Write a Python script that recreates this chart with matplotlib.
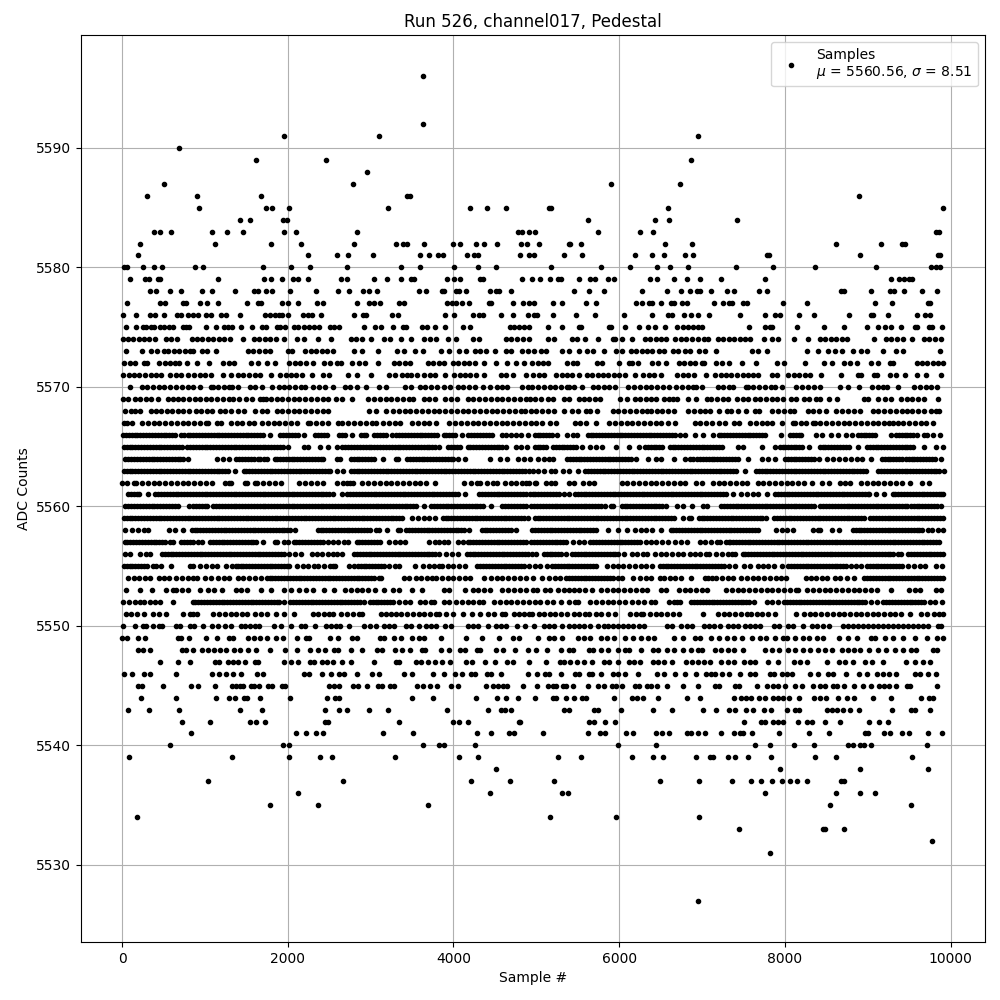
import matplotlib
matplotlib.use("Agg")
import matplotlib.pyplot as plt

run_number = 526
channel = "channel017"
mean_adc = 5560.56
std_adc = 8.51

# sample numbers, one list per ADC level
s5596 = [3627]
s5592 = [3627]
s5591 = [1955, 3100, 6955]
s5590 = [690]
s5589 = [1620, 2460, 6871]
s5588 = [2955]
s5587 = [510, 2785, 5907, 6739]
s5586 = [305, 905, 1680, 3440, 3480, 8895]
s5585 = [930, 1740, 1805, 2010, 3210, 4205, 4400, 4630, 5150, 5175, 6594, 9907]
s5584 = [1425, 1545, 1945, 1985, 5618, 6437, 6606, 7425]
s5583 = [385, 460, 590, 1085, 1265, 1460, 1955, 2100, 2830, 4780, 4830, 4907, 4980, 5750, 6257, 6413, 9830, 9855]
s5582 = [221, 1125, 1800, 2160, 2800, 3305, 3390, 3440, 3640, 3992, 4076, 4270, 4365, 4522, 4810, 4887, 5028, 5390, 5410, 5534, 6558, 6883, 8618, 9160, 9413, 9453]
s5581 = [197, 2245, 2594, 2727, 3028, 3594, 3703, 3811, 3871, 4160, 4245, 4293, 4800, 4907, 4976, 5329, 5546, 6196, 6401, 6546, 6799, 6895, 7787, 7811, 8907, 9843, 9867]
s5580 = [20, 60, 257, 390, 486, 884, 980, 1703, 2040, 2269, 2715, 3365, 3594, 4004, 4293, 4510, 5176, 5775, 6136, 6461, 6618, 6835, 7413, 7859, 8365, 9100, 9770, 9819, 9875]
s5579 = [100, 281, 325, 430, 462, 1160, 1715, 1800, 1932, 2064, 2124, 2245, 2642, 2715, 3040, 3197, 3365, 3486, 3522, 3924, 4004, 4084, 4317, 4353, 4827, 4944, 5040, 5160, 5257, 5297, 5510, 5642, 5703, 5871, 5943, 6377, 6461, 6666, 6823, 6980, 7233, 7763, 9281, 9377, 9437, 9498, 9534]
s5578 = [341, 414, 582, 715, 968, 1088, 1365, 1594, 1643, 1739, 1811, 2028, 2341, 2606, 2739, 2908, 2980, 3072, 3582, 3667, 3859, 3891, 4028, 4064, 4148, 4438, 4514, 4546, 4690, 5450, 5630, 5811, 6281, 6582, 6751, 6859, 6935, 6976, 7112, 7305, 7389, 7690, 7787, 8678, 8715, 9040, 9269, 9317, 9437, 9654, 9835]
s5577 = [64, 462, 522, 739, 775, 944, 1028, 1160, 1510, 1643, 1679, 1932, 2004, 2124, 2353, 2426, 2835, 2980, 3040, 3112, 3341, 3402, 3920, 3980, 4028, 4100, 4185, 4425, 4453, 4715, 4835, 4907, 4968, 5197, 5305, 5594, 5715, 6209, 6281, 6365, 6401, 6510, 6630, 6666, 6763, 6823, 7148, 7257, 7329, 7365, 7498, 7546, 7980, 8269, 9088, 9293, 9727, 9747]
s5576 = [16, 173, 341, 402, 510, 667, 715, 799, 851, 912, 1016, 1076, 1197, 1257, 1425, 1727, 1787, 1847, 1895, 1935, 2004, 2185, 2245, 2297, 2401, 2799, 2908, 2944, 3257, 3329, 3895, 4004, 4233, 4305, 4353, 4570, 4715, 4895, 4968, 5008, 5197, 5474, 5703, 6064, 6401, 6594, 6642, 6787, 6871, 6955, 7088, 7462, 7763, 7883, 7943, 8172, 8353, 8775, 9040, 9064, 9245, 9594, 9690, 9750]
s5575 = [52, 173, 257, 293, 349, 390, 462, 510, 570, 610, 731, 775, 811, 1016, 1136, 1233, 1273, 1329, 1438, 1570, 1690, 1735, 1875, 1908, 1968, 2076, 2124, 2197, 2257, 2317, 2377, 2510, 2558, 2618, 2920, 3052, 3124, 3269, 3385, 3422, 3622, 3683, 3775, 3895, 4112, 4197, 4679, 4727, 4787, 4847, 4907, 5136, 5305, 5510, 5538, 5883, 5907, 6076, 6245, 6353, 6437, 6558, 6703, 6775, 6835, 6895, 6955, 6995, 7570, 7763, 7819, 7847, 8148, 8474, 8715, 8992, 9124, 9209, 9281, 9401, 9570, 9594, 9739, 9775, 9895]
s5574 = [10, 70, 130, 200, 270, 330, 400, 526, 590, 658, 840, 905, 970, 1035, 1100, 1170, 1235, 1300, 1458, 1590, 1655, 1720, 1790, 1855, 1955, 2115, 2200, 2365, 2525, 2760, 2825, 2890, 3000, 3160, 3230, 3361, 3490, 3640, 3720, 3790, 3935, 4035, 4230, 4310, 4630, 4700, 4770, 4840, 4910, 5144, 5209, 5425, 5490, 5590, 5739, 5920, 5955, 6040, 6160, 6310, 6375, 6440, 6505, 6565, 6680, 6745, 6810, 6880, 6950, 7020, 7075, 7190, 7255, 7320, 7390, 7455, 7520, 7580, 7743, 7850, 7915, 8112, 8285, 8425, 8490, 8555, 8620, 8690, 8755, 9076, 9215, 9280, 9350, 9430, 9538, 9680, 9745, 9810, 9880]
s5573 = [52, 237, 350, 425, 500, 560, 625, 690, 755, 825, 860, 960, 1030, 1130, 1520, 1585, 1650, 1720, 1790, 2000, 2050, 2210, 2275, 2340, 2410, 2475, 2550, 2795, 2900, 3088, 3320, 3400, 3540, 3630, 3850, 3950, 4070, 4150, 4260, 4325, 4390, 4500, 4640, 4690, 4830, 4900, 4970, 5060, 5120, 5310, 5400, 5514, 5610, 5680, 5819, 5965, 6035, 6140, 6205, 6270, 6335, 6400, 6480, 6540, 6650, 6715, 6790, 6850, 6960, 7040, 7164, 7600, 7680, 7787, 8269, 8397, 8518, 8606, 8695, 8823, 8923, 8996, 9185, 9340, 9430, 9871]
s5572 = [28, 95, 157, 260, 300, 450, 515, 580, 640, 690, 780, 904, 1052, 1215, 1285, 1345, 1560, 1640, 1750, 1850, 2020, 2085, 2150, 2215, 2310, 2440, 2510, 2590, 2640, 2770, 2860, 2930, 3090, 3280, 3345, 3410, 3480, 3690, 3755, 3820, 3885, 3995, 4060, 4125, 4190, 4260, 4370, 4518, 4646, 4759, 4847, 4950, 5015, 5080, 5140, 5370, 5440, 5490, 5730, 5790, 5996, 6120, 6155, 6233, 6400, 6470, 6560, 6720, 6785, 6860, 6910, 7000, 7030, 7170, 7240, 7330, 7486, 7646, 7908, 7992, 8245, 8470, 8570, 8720, 8790, 8870, 9040, 9130, 9270, 9305, 9590, 9655, 9720, 9785, 9850, 9915]
s5571 = [10, 80, 145, 210, 280, 345, 410, 470, 580, 650, 715, 800, 870, 935, 1000, 1070, 1220, 1310, 1400, 1465, 1530, 1600, 1665, 1800, 1910, 1975, 2040, 2105, 2170, 2290, 2425, 2500, 2730, 2835, 3008, 3220, 3300, 3380, 3445, 3490, 3555, 3650, 3715, 3780, 3900, 4010, 4075, 4140, 4205, 4270, 4370, 4575, 4640, 4720, 4880, 4965, 5030, 5090, 5240, 5305, 5370, 5435, 5510, 5610, 5675, 5740, 5805, 5870, 5935, 6000, 6065, 6188, 6290, 6355, 6420, 6500, 6700, 6765, 6830, 6900, 7052, 7160, 7225, 7290, 7355, 7420, 7490, 7555, 7620, 7680, 7850, 7900, 8040, 8105, 8170, 8240, 8305, 8440, 8678, 8880, 8920, 9075, 9110, 9265, 9345, 9445, 9600, 9700, 9887]
s5570 = [95, 240, 305, 375, 440, 510, 580, 650, 720, 790, 855, 935, 1070, 1100, 1160, 1225, 1290, 1330, 1400, 1545, 1610, 1690, 1810, 1900, 1950, 2020, 2090, 2160, 2210, 2310, 2380, 2450, 2540, 2690, 2755, 2830, 2950, 3100, 3180, 3420, 3490, 3590, 3660, 3730, 3800, 3890, 3960, 4060, 4120, 4190, 4260, 4360, 4440, 4520, 4590, 4650, 4830, 4900, 4950, 5020, 5090, 5160, 5230, 5300, 5370, 5400, 5460, 5550, 5680, 5750, 5815, 5880, 5950, 6110, 6180, 6250, 6320, 6390, 6460, 6530, 6600, 6690, 6760, 6830, 6890, 6930, 7000, 7190, 7250, 7320, 7380, 7530, 7550, 7620, 7690, 7760, 7835, 7885, 7960, 8140, 8210, 8280, 8350, 8420, 8660, 8760, 8890, 9050, 9120, 9190, 9235, 9365, 9560, 9630, 9700, 9770, 9835]
s5569 = [8, 75, 150, 220, 290, 350, 430, 550, 610, 680, 740, 810, 880, 945, 1010, 1075, 1150, 1220, 1290, 1340, 1410, 1490, 1570, 1660, 1700, 1740, 1800, 1870, 1935, 2000, 2070, 2140, 2210, 2280, 2350, 2420, 2490, 2580, 2655, 2780, 2970, 3040, 3110, 3180, 3250, 3320, 3390, 3460, 3510, 3640, 3710, 3780, 3900, 3970, 4040, 4170, 4240, 4310, 4380, 4450, 4520, 4590, 4660, 4730, 4800, 4870, 4920, 4990, 5060, 5145, 5200, 5340, 5400, 5510, 5570, 5640, 5710, 5770, 6010, 6100, 6190, 6250, 6320, 6390, 6450, 6540, 6600, 6650, 6700, 6830, 6930, 7060, 7110, 7180, 7250, 7310, 7420, 7490, 7550, 7640, 7700, 7770, 7840, 7910, 7980, 8080, 8130, 8230, 8290, 8370, 8420, 8528, 8630, 8950, 9000, 9119, 9210, 9280, 9398, 9470, 9540, 9610, 9680, 9851]
s5568 = [40, 110, 150, 217, 345, 410, 470, 540, 600, 670, 730, 810, 890, 950, 1020, 1090, 1180, 1240, 1310, 1400, 1470, 1600, 1690, 1750, 1870, 1930, 2000, 2070, 2140, 2210, 2280, 2350, 2420, 2490, 2980, 3060, 3190, 3270, 3340, 3410, 3480, 3550, 3620, 3690, 3760, 3830, 3900, 3970, 4040, 4110, 4180, 4250, 4320, 4390, 4460, 4530, 4600, 4670, 4740, 4810, 4860, 4930, 5000, 5070, 5140, 5215, 5330, 5430, 5500, 5600, 5650, 5730, 5920, 5990, 6060, 6130, 6200, 6270, 6340, 6390, 6460, 6520, 6590, 6660, 6830, 6900, 6970, 7040, 7100, 7207, 7300, 7350, 7440, 7530, 7640, 7690, 7850, 7920, 7990, 8060, 8110, 8280, 8340, 8410, 8500, 8620, 8690, 8760, 8830, 8905, 9060, 9130, 9200, 9270, 9340, 9410, 9480, 9540, 9610, 9680, 9760, 9820, 9860]
s5567 = [20, 60, 116, 240, 310, 380, 450, 520, 590, 660, 730, 800, 870, 940, 1010, 1040, 1150, 1190, 1310, 1390, 1450, 1530, 1590, 1690, 1760, 1830, 1900, 1970, 2040, 2110, 2240, 2270, 2340, 2410, 2480, 2610, 2660, 2730, 2800, 2870, 2940, 3020, 3065, 3150, 3220, 3290, 3360, 3500, 3570, 3640, 3710, 3790, 3950, 4020, 4090, 4160, 4230, 4300, 4370, 4440, 4510, 4580, 4650, 4720, 4790, 4860, 4930, 5000, 5070, 5170, 5232, 5470, 5530, 5600, 5715, 5880, 5950, 6020, 6090, 6160, 6230, 6300, 6370, 6440, 6510, 6590, 6680, 6910, 6980, 7050, 7120, 7200, 7277, 7390, 7450, 7580, 7650, 7720, 7790, 7850, 7970, 8100, 8120, 8190, 8260, 8340, 8360, 8430, 8500, 8570, 8640, 8710, 8780, 8850, 8920, 8990, 9060, 9130, 9200, 9260, 9310, 9360, 9430, 9500, 9570, 9640, 9700, 9790]
s5566 = [12, 80, 150, 220, 290, 360, 430, 500, 570, 640, 710, 742, 790, 860, 930, 1000, 1070, 1140, 1210, 1280, 1350, 1420, 1490, 1560, 1630, 1700, 1790, 1910, 1980, 2050, 2120, 2190, 2330, 2400, 2470, 2620, 2690, 2770, 2880, 2950, 3040, 3110, 3180, 3260, 3310, 3380, 3450, 3520, 3590, 3660, 3730, 3800, 3880, 3950, 4020, 4100, 4180, 4250, 4320, 4390, 4460, 4580, 4640, 4690, 4760, 4820, 4900, 4980, 5050, 5120, 5190, 5245, 5370, 5440, 5490, 5620, 5690, 5760, 5830, 5900, 5970, 6040, 6110, 6180, 6250, 6320, 6390, 6460, 6530, 6600, 6670, 6740, 6795, 6911, 7011, 7135, 7200, 7270, 7340, 7410, 7480, 7550, 7620, 7690, 7760, 7950, 8060, 8130, 8200, 8380, 8450, 8560, 8640, 8740, 8810, 8880, 8950, 9020, 9090, 9280, 9340, 9410, 9480, 9550, 9600, 9680, 9710, 9790, 9870]
s5565 = [20, 90, 160, 230, 300, 370, 440, 510, 580, 650, 720, 780, 820, 890, 960, 1030, 1100, 1170, 1240, 1310, 1380, 1450, 1520, 1590, 1660, 1730, 1800, 1870, 1940, 2000, 2200, 2240, 2390, 2480, 2590, 2660, 2730, 2800, 2870, 2940, 3010, 3080, 3150, 3220, 3290, 3360, 3430, 3500, 3570, 3640, 3710, 3780, 3830, 3940, 4010, 4080, 4170, 4240, 4310, 4380, 4450, 4520, 4590, 4630, 4750, 4820, 4890, 4980, 5050, 5115, 5200, 5270, 5340, 5410, 5480, 5555, 5650, 5715, 5790, 5960, 6120, 6240, 6310, 6380, 6450, 6520, 6610, 6680, 6750, 6820, 6890, 6960, 7030, 7100, 7170, 7240, 7430, 7490, 7727, 7880, 7940, 8000, 8070, 8140, 8210, 8290, 8420, 8490, 8560, 8630, 8700, 8770, 8880, 8990, 9060, 9130, 9200, 9270, 9340, 9410, 9480, 9550, 9680, 9820, 9915]
s5564 = [40, 110, 180, 250, 320, 390, 460, 530, 600, 670, 740, 800, 1140, 1220, 1290, 1380, 1450, 1520, 1590, 1670, 1750, 1840, 1870, 1940, 2010, 2080, 2150, 2220, 2290, 2360, 2430, 2600, 2630, 2760, 2830, 2900, 2970, 3040, 3150, 3310, 3330, 3440, 3510, 3580, 3650, 3720, 3790, 3860, 3930, 4000, 4060, 4140, 4440, 4560, 4650, 4780, 4850, 4920, 5020, 5090, 5150, 5200, 5370, 5440, 5510, 5580, 5650, 5720, 5790, 5860, 5930, 6000, 6070, 6140, 6200, 6345, 6440, 6510, 6660, 6795, 6860, 6940, 7010, 7080, 7150, 7220, 7290, 7360, 7430, 7559, 7730, 7800, 7880, 8000, 8070, 8140, 8210, 8280, 8350, 8410, 8510, 8580, 8650, 8730, 8800, 8870, 8930, 9035, 9170, 9240, 9310, 9380, 9460, 9530, 9600, 9670, 9740, 9810, 9880]
s5563 = [20, 90, 160, 230, 300, 370, 440, 510, 580, 650, 720, 790, 860, 930, 1000, 1070, 1140, 1210, 1280, 1360, 1466, 1535, 1605, 1675, 1745, 1815, 1885, 1955, 2025, 2095, 2165, 2235, 2305, 2375, 2445, 2515, 2600, 2667, 2759, 2830, 2900, 2970, 3040, 3110, 3180, 3250, 3320, 3390, 3460, 3530, 3600, 3670, 3740, 3810, 3880, 3950, 4020, 4090, 4160, 4230, 4300, 4370, 4440, 4510, 4580, 4650, 4720, 4790, 4860, 4910, 4960, 5025, 5090, 5172, 5230, 5320, 5395, 5498, 5590, 5660, 5730, 5800, 5870, 5940, 6010, 6080, 6150, 6220, 6290, 6360, 6430, 6500, 6570, 6640, 6710, 6780, 6850, 6920, 6990, 7060, 7130, 7200, 7270, 7340, 7410, 7514, 7650, 7720, 7790, 7860, 7930, 8000, 8070, 8140, 8210, 8280, 8350, 8420, 8490, 8560, 8630, 8700, 8770, 8840, 8910, 8980, 9128, 9200, 9270, 9340, 9410, 9480, 9550, 9620, 9690, 9760, 9830, 9920]
s5562 = [0, 60, 140, 170, 240, 310, 380, 450, 520, 590, 660, 730, 800, 870, 940, 1010, 1080, 1240, 1290, 1320, 1480, 1510, 1600, 1630, 1700, 1770, 1840, 1920, 2140, 2210, 2280, 2350, 2420, 2600, 2670, 2720, 2750, 2790, 2900, 2970, 3040, 3110, 3180, 3250, 3320, 3390, 3460, 3530, 3600, 3670, 3780, 4130, 4210, 4290, 4320, 4400, 4480, 4530, 4620, 4690, 4750, 4830, 4880, 4910, 4990, 5000, 5120, 5180, 5220, 5390, 5460, 5560, 5630, 5700, 6030, 6100, 6170, 6240, 6310, 6380, 6450, 6520, 6590, 6660, 6730, 6800, 6930, 7000, 7130, 7200, 7270, 7340, 7410, 7480, 7540, 7670, 7740, 7810, 7880, 7950, 8020, 8090, 8160, 8230, 8330, 8450, 8530, 8660, 8730, 8790, 8920, 8990, 9060, 9130, 9200, 9270, 9340, 9410, 9510, 9650, 9740]
s5561 = [68, 140, 210, 315, 400, 470, 540, 610, 680, 750, 820, 890, 960, 1030, 1100, 1170, 1240, 1310, 1380, 1450, 1520, 1590, 1660, 1730, 1800, 1870, 1940, 2010, 2080, 2150, 2220, 2290, 2360, 2430, 2500, 2540, 2650, 2720, 2790, 2860, 2930, 3000, 3070, 3140, 3210, 3280, 3350, 3420, 3490, 3560, 3630, 3700, 3770, 3840, 3910, 3980, 4050, 4135, 4310, 4380, 4450, 4520, 4590, 4660, 4730, 4800, 4870, 4920, 4990, 5060, 5130, 5200, 5270, 5330, 5395, 5465, 5535, 5605, 5675, 5745, 5815, 5885, 5955, 6025, 6095, 6165, 6235, 6305, 6375, 6445, 6515, 6585, 6655, 6725, 6795, 6865, 6935, 7005, 7075, 7145, 7215, 7285, 7370, 7470, 7540, 7610, 7680, 7785, 7880, 7950, 8020, 8090, 8160, 8230, 8300, 8370, 8440, 8510, 8580, 8650, 8720, 8790, 8860, 8930, 9000, 9020, 9100, 9200, 9300, 9370, 9440, 9510, 9580, 9650, 9720, 9790, 9860, 9915]
s5560 = [40, 110, 180, 250, 320, 390, 460, 530, 600, 670, 810, 860, 930, 1000, 1030, 1100, 1170, 1240, 1310, 1380, 1450, 1520, 1590, 1660, 1730, 1800, 1870, 1940, 2010, 2080, 2150, 2220, 2290, 2360, 2430, 2500, 2570, 2640, 2710, 2780, 2850, 2920, 2990, 3060, 3130, 3200, 3270, 3340, 3410, 3480, 3550, 3650, 3730, 3800, 3870, 3940, 4010, 4080, 4150, 4220, 4290, 4360, 4450, 4590, 4660, 4730, 4800, 4870, 4940, 5010, 5080, 5150, 5220, 5290, 5360, 5430, 5500, 5570, 5640, 5710, 5780, 5830, 5900, 5920, 6030, 6100, 6170, 6240, 6310, 6380, 6450, 6520, 6570, 6700, 6770, 6880, 7010, 7060, 7230, 7300, 7370, 7440, 7510, 7580, 7650, 7720, 7790, 7860, 7930, 8000, 8070, 8140, 8210, 8280, 8350, 8430, 8500, 8570, 8640, 8710, 8780, 8850, 8920, 8990, 9060, 9130, 9200, 9270, 9340, 9410, 9480, 9520, 9555, 9625, 9695, 9765, 9835, 9890]
s5559 = [20, 90, 160, 230, 300, 370, 440, 510, 580, 650, 720, 790, 860, 930, 1000, 1070, 1140, 1210, 1280, 1350, 1420, 1490, 1560, 1630, 1700, 1770, 1840, 1910, 1980, 2050, 2120, 2190, 2260, 2330, 2400, 2470, 2540, 2610, 2680, 2750, 2820, 2890, 2960, 3030, 3100, 3170, 3240, 3310, 3380, 3500, 3570, 3640, 3710, 3780, 3870, 3940, 4010, 4080, 4150, 4220, 4290, 4360, 4430, 4500, 4570, 4640, 4710, 4780, 4850, 4900, 4980, 5050, 5120, 5190, 5260, 5330, 5400, 5470, 5540, 5610, 5680, 5750, 5820, 5890, 5960, 6030, 6100, 6170, 6240, 6310, 6380, 6450, 6520, 6590, 6660, 6770, 6840, 6870, 6960, 7030, 7100, 7170, 7240, 7310, 7380, 7450, 7520, 7590, 7660, 7730, 7770, 7870, 7940, 8010, 8080, 8150, 8220, 8290, 8360, 8430, 8500, 8570, 8640, 8710, 8780, 8850, 8920, 8960, 9030, 9100, 9170, 9240, 9310, 9380, 9450, 9520, 9590, 9660, 9730, 9800, 9870, 9915]
s5558 = [30, 125, 190, 260, 310, 570, 640, 730, 840, 910, 980, 1050, 1120, 1190, 1260, 1330, 1400, 1470, 1540, 1610, 1680, 1750, 1820, 1890, 1960, 2030, 2090, 2360, 2430, 2500, 2570, 2640, 2710, 2780, 2850, 2920, 2990, 3060, 3100, 3200, 3330, 3360, 3430, 3500, 3570, 3640, 3710, 3780, 3850, 3920, 3990, 4060, 4130, 4190, 4340, 4410, 4480, 4550, 4620, 4690, 4760, 4950, 5020, 5090, 5160, 5230, 5300, 5370, 5440, 5510, 5580, 5650, 5720, 5860, 5990, 6090, 6190, 6260, 6330, 6400, 6500, 6620, 6690, 6760, 6830, 6900, 6970, 7040, 7110, 7180, 7250, 7320, 7390, 7460, 7530, 7600, 7670, 7890, 7960, 8030, 8100, 8340, 8400, 8430, 8570, 8650, 8820, 8890, 8960, 9030, 9100, 9170, 9240, 9310, 9380, 9450, 9520, 9590, 9660, 9730, 9780, 9850, 9915]
s5557 = [30, 100, 170, 240, 310, 380, 450, 520, 580, 620, 710, 780, 850, 920, 960, 1060, 1130, 1200, 1270, 1340, 1410, 1480, 1550, 1620, 1700, 1840, 1870, 1960, 2000, 2070, 2140, 2210, 2280, 2350, 2420, 2480, 2540, 2610, 2680, 2730, 2830, 2900, 2970, 3040, 3110, 3220, 3290, 3360, 3420, 3710, 3780, 3820, 3880, 3940, 4060, 4110, 4170, 4240, 4310, 4380, 4450, 4520, 4590, 4660, 4730, 4800, 4870, 4940, 5010, 5080, 5150, 5220, 5290, 5360, 5440, 5510, 5580, 5650, 5690, 5760, 5830, 5900, 5970, 6040, 6110, 6180, 6250, 6320, 6390, 6450, 6520, 6590, 6680, 6750, 6820, 6970, 7040, 7110, 7180, 7220, 7290, 7340, 7410, 7480, 7550, 7620, 7690, 7760, 7830, 7900, 7970, 8040, 8110, 8180, 8250, 8320, 8390, 8460, 8530, 8600, 8670, 8740, 8810, 8880, 8950, 9020, 9090, 9160, 9230, 9300, 9370, 9440, 9510, 9580, 9650, 9720, 9790, 9860]
s5556 = [30, 100, 220, 290, 340, 480, 550, 620, 690, 760, 830, 900, 970, 1040, 1110, 1180, 1250, 1320, 1390, 1460, 1530, 1600, 1670, 1740, 1810, 1880, 1950, 2020, 2090, 2160, 2290, 2350, 2410, 2480, 2550, 2600, 2660, 2800, 2870, 2940, 3010, 3080, 3150, 3220, 3290, 3360, 3430, 3500, 3570, 3640, 3710, 3780, 3820, 3910, 3980, 4050, 4160, 4230, 4300, 4370, 4440, 4510, 4580, 4650, 4720, 4790, 4860, 4900, 4950, 5000, 5090, 5160, 5230, 5300, 5360, 5430, 5500, 5570, 5640, 5710, 5780, 5850, 5920, 5990, 6055, 6160, 6220, 6290, 6340, 6430, 6500, 6570, 6640, 6710, 6770, 6850, 6910, 6980, 7050, 7090, 7170, 7240, 7310, 7360, 7400, 7490, 7560, 7630, 7700, 7770, 7840, 7910, 7980, 8050, 8120, 8190, 8260, 8330, 8400, 8470, 8540, 8610, 8680, 8750, 8820, 8890, 8960, 9030, 9100, 9170, 9240, 9310, 9365, 9400, 9490, 9560, 9630, 9700, 9770, 9840, 9915]
s5555 = [20, 90, 160, 230, 300, 370, 410, 470, 590, 820, 860, 940, 1010, 1090, 1150, 1260, 1330, 1370, 1430, 1500, 1570, 1640, 1710, 1780, 1850, 1920, 1990, 2020, 2110, 2180, 2250, 2320, 2360, 2440, 2510, 2540, 2570, 2740, 2800, 2880, 2950, 3020, 3090, 3160, 3220, 3290, 3340, 3540, 3630, 3700, 3770, 3830, 3860, 3930, 4000, 4070, 4140, 4290, 4360, 4430, 4500, 4570, 4640, 4710, 4780, 4850, 4910, 4980, 5050, 5130, 5190, 5260, 5330, 5400, 5470, 5540, 5610, 5680, 5715, 5855, 5920, 5990, 6050, 6120, 6190, 6260, 6320, 6395, 6490, 6560, 6630, 6700, 6770, 6840, 6910, 6980, 7050, 7120, 7190, 7260, 7330, 7400, 7510, 7575, 7680, 7740, 7800, 7870, 7960, 8040, 8110, 8180, 8250, 8320, 8390, 8460, 8530, 8600, 8670, 8740, 8800, 8860, 8920, 8990, 9060, 9130, 9200, 9270, 9340, 9410, 9490, 9560, 9630, 9690, 9830, 9900]
s5554 = [70, 140, 210, 280, 340, 440, 500, 570, 650, 720, 790, 860, 910, 1000, 1070, 1160, 1230, 1290, 1400, 1460, 1530, 1600, 1680, 1750, 1780, 1850, 1920, 1990, 2060, 2130, 2200, 2270, 2340, 2410, 2480, 2550, 2620, 2690, 2760, 2830, 2900, 2970, 3040, 3100, 3130, 3400, 3460, 3550, 3610, 3680, 3740, 3790, 3860, 3930, 4000, 4070, 4140, 4200, 4370, 4450, 4520, 4590, 4660, 4730, 4800, 4870, 4960, 5070, 5150, 5230, 5290, 5360, 5430, 5500, 5570, 5640, 5710, 5780, 5850, 5920, 5990, 6040, 6170, 6250, 6320, 6390, 6490, 6540, 6610, 6680, 6750, 6870, 7040, 7070, 7120, 7170, 7240, 7310, 7380, 7470, 7540, 7610, 7680, 7750, 7820, 7890, 7950, 8013, 8260, 8310, 8380, 8450, 8510, 8600, 8670, 8750, 8835, 8960, 9030, 9100, 9170, 9240, 9310, 9380, 9450, 9520, 9590, 9660, 9730, 9800, 9870, 9915]
s5553 = [52, 217, 366, 530, 610, 650, 720, 790, 944, 1040, 1110, 1200, 1370, 1440, 1510, 1680, 1800, 1950, 2040, 2130, 2220, 2300, 2440, 2560, 2690, 2760, 2830, 2900, 2970, 3050, 3160, 3270, 3340, 3500, 3620, 3890, 3950, 4140, 4230, 4300, 4370, 4440, 4580, 4660, 4730, 4800, 4870, 4960, 5010, 5100, 5160, 5260, 5330, 5400, 5460, 5520, 5590, 5670, 5780, 5850, 5920, 5990, 6060, 6130, 6200, 6270, 6340, 6505, 6570, 6720, 6790, 6860, 6930, 7000, 7065, 7290, 7360, 7430, 7500, 7570, 7640, 7710, 7780, 7850, 7920, 7990, 8060, 8130, 8160, 8270, 8340, 8410, 8480, 8550, 8620, 8690, 8760, 8830, 8900, 8970, 9040, 9110, 9280, 9500, 9570, 9630, 9820, 9890]
s5552 = [10, 80, 150, 220, 270, 340, 400, 460, 620, 850, 920, 990, 1060, 1130, 1200, 1270, 1340, 1410, 1480, 1550, 1620, 1690, 1760, 1830, 1900, 1960, 2030, 2100, 2170, 2240, 2310, 2380, 2450, 2520, 2590, 2660, 2730, 2800, 2870, 2920, 2990, 3060, 3130, 3200, 3270, 3340, 3410, 3480, 3590, 3660, 3730, 3760, 3880, 3950, 4030, 4100, 4170, 4240, 4310, 4360, 4490, 4560, 4630, 4700, 4770, 4840, 4910, 4980, 5050, 5130, 5200, 5300, 5400, 5470, 5500, 5650, 5720, 5790, 5860, 5930, 6000, 6070, 6150, 6230, 6300, 6380, 6430, 6600, 6660, 6700, 6740, 6870, 6940, 7010, 7080, 7150, 7220, 7290, 7360, 7430, 7500, 7570, 7630, 7780, 7850, 7920, 7990, 8060, 8130, 8200, 8270, 8340, 8410, 8480, 8550, 8620, 8690, 8760, 8830, 8900, 8970, 9040, 9110, 9190, 9260, 9330, 9400, 9470, 9540, 9610, 9680, 9750, 9815, 9895]
s5551 = [45, 110, 180, 270, 369, 451, 530, 731, 823, 860, 900, 1100, 1170, 1240, 1310, 1370, 1450, 1510, 1600, 1680, 1750, 1860, 1960, 2071, 2310, 2370, 2440, 2500, 2550, 2640, 2720, 2790, 2860, 2890, 3130, 3190, 3250, 3310, 3370, 3440, 3510, 3580, 3650, 3720, 3790, 3820, 3910, 3990, 4120, 4220, 4320, 4420, 4490, 4580, 4620, 4730, 4790, 4850, 4910, 4950, 5030, 5090, 5160, 5230, 5300, 5370, 5450, 5520, 5590, 5640, 5720, 5780, 5860, 5950, 6130, 6200, 6260, 6290, 6370, 6440, 6510, 6580, 6650, 6720, 7011, 7190, 7260, 7330, 7400, 7470, 7540, 7590, 7660, 7730, 7800, 7880, 8135, 8230, 8300, 8360, 8440, 8510, 8580, 8650, 8720, 8790, 8860, 8920, 8990, 9060, 9130, 9200, 9270, 9330, 9400, 9510, 9640, 9720, 9800, 9860, 9915]
s5550 = [16, 161, 257, 293, 377, 450, 486, 655, 703, 823, 871, 980, 1088, 1160, 1245, 1317, 1438, 1486, 1546, 1606, 1655, 1835, 1920, 2040, 2160, 2209, 2329, 2462, 2522, 2582, 2630, 2739, 2920, 2992, 3064, 3161, 3221, 3281, 3426, 3486, 3582, 3667, 3727, 3787, 3895, 3968, 4173, 4233, 4293, 4414, 4510, 4570, 4630, 4763, 4859, 4968, 5088, 5148, 5209, 5305, 5389, 5450, 5510, 5570, 5642, 5739, 5811, 5871, 5931, 5992, 6052, 6112, 6172, 6245, 6305, 6582, 6642, 6751, 6823, 6883, 7028, 7088, 7148, 7221, 7317, 7377, 7437, 7522, 7582, 7642, 7703, 7871, 7931, 8040, 8100, 8221, 8329, 8389, 8461, 8534, 8703, 8763, 8823, 8883, 8943, 9003, 9063, 9123, 9183, 9243, 9303, 9363, 9423, 9483, 9543, 9603, 9663, 9723, 9843, 9883]
s5549 = [4, 64, 197, 281, 679, 715, 811, 1016, 1149, 1293, 1341, 1522, 1594, 1667, 1751, 1859, 1944, 2112, 2221, 2257, 2510, 2606, 2775, 2835, 3112, 3161, 3281, 3365, 3498, 3582, 3643, 3847, 4148, 4341, 4546, 4715, 4787, 5016, 5148, 5209, 5305, 5498, 5570, 5642, 5775, 5859, 5943, 6076, 6172, 6269, 6353, 6425, 6666, 6775, 6919, 6980, 7112, 7209, 7305, 7389, 7486, 7606, 7703, 7775, 7883, 7980, 8028, 8124, 8221, 8293, 8389, 8461, 8654, 8763, 8871, 9040, 9088, 9209, 9305, 9425, 9570, 9714, 9835, 9907]
s5548 = [197, 257, 341, 727, 775, 859, 968, 1040, 1112, 1185, 1257, 1353, 1425, 1522, 1618, 1787, 1968, 2112, 2269, 2365, 2450, 2558, 2606, 2763, 2895, 3076, 3136, 3293, 3377, 3474, 3618, 3655, 3847, 3944, 4076, 4137, 4281, 4317, 4510, 4594, 4739, 4895, 4992, 5124, 5293, 5389, 5437, 5630, 5690, 5775, 5871, 5980, 6076, 6124, 6269, 6413, 6474, 6582, 6666, 6775, 6871, 6955, 7004, 7160, 7233, 7317, 7389, 7498, 7763, 7847, 7931, 8040, 8124, 8221, 8305, 8401, 8486, 8570, 8691, 8763, 8835, 8907, 9016, 9124, 9225, 9333, 9425, 9522, 9582, 9787, 9835]
s5547 = [462, 679, 823, 1125, 1173, 1281, 1341, 1402, 1486, 1606, 1643, 1956, 2040, 2124, 2269, 2317, 2414, 2474, 2546, 2655, 2763, 3040, 3305, 3341, 3546, 3606, 3691, 3775, 3859, 3956, 4148, 4221, 4377, 4498, 4642, 4715, 4907, 5112, 5281, 5329, 5401, 5486, 5570, 5678, 5811, 5883, 5992, 6124, 6184, 6257, 6413, 6474, 6546, 6642, 6811, 6883, 6955, 7028, 7100, 7233, 7317, 7389, 7510, 7582, 7642, 7799, 7919, 8112, 8184, 8269, 8510, 8654, 8727, 8823, 8968, 9052, 9185, 9461, 9570, 9666, 9750]
s5546 = [28, 116, 269, 341, 655, 1088, 1173, 1257, 1341, 1438, 1630, 1703, 2197, 2257, 2414, 2522, 2618, 2679, 2835, 3016, 3100, 3402, 3498, 3751, 3884, 4020, 4100, 4209, 4257, 4402, 4450, 4570, 4895, 5004, 5100, 5148, 5293, 5461, 5510, 5630, 5678, 5775, 5931, 5992, 6076, 6233, 6461, 6546, 6678, 6799, 6931, 7052, 7112, 7160, 7245, 7329, 7462, 7582, 7642, 7823, 7871, 7968, 8028, 8088, 8305, 8401, 8522, 8582, 8739, 8895, 8992, 9112, 9185, 9257, 9341, 9570, 9630, 9727, 9823]
s5545 = [197, 245, 498, 835, 920, 1125, 1329, 1377, 1425, 1461, 1558, 1594, 1655, 1763, 1811, 1932, 1968, 2498, 2558, 2618, 2787, 2847, 2956, 3088, 3136, 3233, 3281, 3558, 3630, 3715, 3799, 3968, 4052, 4390, 4474, 4534, 4594, 4642, 4835, 5004, 5136, 5197, 5233, 5317, 5353, 5437, 5618, 5739, 5811, 5911, 5956, 6040, 6196, 6245, 6341, 6389, 6461, 6582, 6775, 6955, 7160, 7209, 7401, 7449, 7666, 7787, 7859, 7919, 8004, 8124, 8209, 8341, 8425, 8486, 8582, 8630, 8715, 8835, 8943, 9040, 9136, 9197, 9257, 9341, 9474, 9510, 9835]
s5544 = [233, 655, 1136, 1293, 1365, 1474, 1506, 1667, 2028, 2474, 2570, 2618, 3498, 3751, 4269, 4522, 4630, 4775, 4980, 5197, 5233, 5353, 5450, 5546, 5594, 5943, 6160, 6221, 6293, 6474, 6823, 6980, 7389, 7474, 7534, 7594, 7690, 7763, 7859, 7919, 7980, 8052, 8172, 8353, 8425, 8498, 8642, 8751, 8835, 9064, 9281, 9642, 9739, 9787]
s5543 = [76, 329, 691, 1425, 1691, 2450, 2618, 2715, 2980, 3209, 3920, 4414, 4570, 4618, 4690, 5329, 5389, 5698, 5739, 6028, 6413, 6642, 7016, 7172, 7329, 7401, 7534, 7618, 7751, 7835, 8028, 8124, 8172, 8510, 8570, 8630, 8703, 8791, 8895, 9293, 9522, 9570, 9750]
s5542 = [727, 1064, 1546, 1618, 1727, 2450, 2486, 3341, 3992, 4064, 4173, 4787, 4807, 5630, 5698, 5835, 5952, 7510, 7715, 7763, 7859, 7919, 7980, 8160, 8269, 8329, 8486, 8666, 9016, 9136, 9245]
s5541 = [835, 2100, 2221, 2341, 2426, 3149, 3510, 4281, 4450, 4667, 4727, 5076, 5618, 5763, 5835, 6088, 6172, 6450, 6522, 6606, 6823, 6871, 6955, 7040, 7233, 7389, 7458, 7498, 7606, 7931, 8293, 8534, 8968, 9004, 9197, 9269, 9413, 9498, 9727, 9895]
s5540 = [582, 1944, 2016, 3630, 3823, 3884, 4257, 5980, 6446, 7642, 7823, 8112, 8353, 8763, 8823, 8903, 8951, 9040, 9714]
s5539 = [88, 1329, 2016, 2389, 2534, 3293, 4064, 4293, 5257, 5534, 6160, 6413, 6534, 6931, 7096, 7136, 7317, 7401, 7558, 7835, 8365, 8618, 9534]
s5538 = [4510, 7943, 8907, 9727]
s5537 = [1040, 2667, 4209, 4679, 5209, 6498, 6968, 7365, 7594, 7715, 7847, 7968, 8064, 8148, 8269, 8678, 8715]
s5536 = [2124, 4438, 5305, 5377, 7763, 8618, 8907, 9088]
s5535 = [1787, 2365, 3691, 8546, 9522]
s5534 = [185, 5160, 5956, 6968]
s5533 = [7449, 8466, 8480, 8715]
s5532 = [9775]
s5531 = [7823]
s5527 = [6955]

# second reading of the rows that are close to solid in the core of the band
d5566 = [45, 115, 185, 255, 325, 395, 465, 535, 605, 825, 895, 965, 1035, 1105, 1175, 1245, 1315, 1385, 1455, 1525, 1595, 1665, 1945, 2015, 2085, 2365, 2435, 2655, 2915, 3075, 3145, 3345, 3415, 3485, 3555, 3625, 3695, 3765, 3915, 3985, 4215, 4285, 4355, 4425, 5015, 5085, 5155, 5655, 5725, 5795, 5865, 5935, 6005, 6075, 6145, 6215, 6285, 6355, 6425, 6495, 6565, 6635, 7235, 7305, 7375, 7445, 7515, 7585, 7655, 7725, 8095, 8165, 8915, 8985, 9055, 9375, 9445, 9515]
d5565 = [55, 125, 195, 265, 335, 405, 475, 545, 615, 685, 855, 925, 995, 1065, 1135, 1205, 1275, 1345, 1415, 1485, 1555, 1625, 1695, 1765, 1835, 1905, 2695, 2765, 2835, 2905, 2975, 3045, 3115, 3185, 3255, 3325, 3395, 3465, 3535, 3605, 3675, 3745, 3975, 4045, 4205, 4275, 4345, 4415, 4485, 4555, 5015, 5085, 5235, 5305, 5375, 5445, 6345, 6415, 6485, 6645, 6715, 6785, 6855, 6925, 6995, 7065, 7135, 7205, 7975, 8035, 8105, 8175, 8455, 8525, 8595, 8665, 8735, 9025, 9095, 9165, 9235, 9305, 9375, 9445, 9515]
d5564 = [75, 145, 215, 285, 355, 425, 495, 565, 635, 705, 1415, 1485, 1555, 1635, 1715, 1905, 1975, 2045, 2115, 2185, 2255, 2325, 2395, 2795, 2865, 2935, 3005, 3475, 3545, 3615, 3685, 3755, 3825, 3895, 3965, 5405, 5475, 5545, 5615, 5685, 5755, 5825, 5895, 5965, 6035, 6105, 6895, 6975, 7045, 7115, 7185, 7255, 7325, 7395, 8035, 8105, 8175, 8245, 8315, 9205, 9275, 9345, 9415, 9495, 9565, 9635, 9705, 9775]
d5563 = [55, 125, 195, 265, 335, 405, 475, 545, 615, 685, 755, 825, 895, 965, 1035, 1105, 1175, 1245, 1500, 1570, 1640, 1710, 1780, 1850, 1920, 1990, 2060, 2130, 2200, 2270, 2340, 2410, 2480, 2795, 2865, 2935, 3005, 3075, 3145, 3215, 3285, 3355, 3425, 3495, 3565, 3635, 3705, 3775, 3845, 3915, 3985, 4055, 4125, 4195, 4265, 4335, 4405, 4475, 4545, 4615, 4685, 4755, 4825, 5625, 5695, 5765, 5835, 5905, 5975, 6045, 6115, 6185, 6255, 6325, 6395, 6465, 6535, 6605, 6675, 6745, 6815, 6885, 6955, 7025, 7095, 7165, 7235, 7305, 7375, 7685, 7755, 7825, 7895, 7965, 8035, 8105, 8175, 8245, 8315, 8385, 8455, 8525, 8595, 8665, 8735, 8805, 8875, 8945, 9165, 9235, 9305, 9375, 9445, 9515, 9585, 9655, 9725, 9795, 9865]
d5561 = [105, 175, 435, 505, 575, 645, 715, 785, 855, 925, 995, 1065, 1135, 1205, 1275, 1345, 1415, 1485, 1555, 1625, 1695, 1765, 1835, 1905, 1975, 2045, 2115, 2185, 2255, 2325, 2395, 2465, 2755, 2825, 2895, 2965, 3035, 3105, 3175, 3245, 3315, 3385, 3455, 3525, 3595, 3665, 3735, 3805, 3875, 3945, 4015, 4345, 4415, 4485, 4555, 4625, 4695, 4765, 4835, 4955, 5025, 5095, 5165, 5235, 5505, 5570, 5640, 5710, 5780, 5850, 5920, 5990, 6060, 6130, 6200, 6270, 6340, 6410, 6480, 6550, 6620, 6690, 6760, 6830, 6900, 6970, 7040, 7110, 7180, 7250, 7915, 7985, 8055, 8125, 8195, 8265, 8335, 8405, 8475, 8545, 8615, 8685, 8755, 8825, 8895, 8965, 9335, 9405, 9475, 9545, 9615, 9685, 9755, 9825, 9885]
d5560 = [75, 145, 215, 285, 355, 425, 495, 565, 635, 895, 965, 1135, 1205, 1275, 1345, 1415, 1485, 1555, 1625, 1695, 1765, 1835, 1905, 1975, 2045, 2115, 2185, 2255, 2325, 2395, 2465, 2535, 2605, 2675, 2745, 2815, 2885, 2955, 3025, 3095, 3165, 3235, 3305, 3375, 3445, 3515, 3765, 3835, 3905, 3975, 4045, 4115, 4185, 4255, 4325, 4625, 4695, 4765, 4835, 4975, 5045, 5115, 5185, 5255, 5325, 5395, 5465, 5535, 5605, 5675, 5745, 6065, 6135, 6205, 6275, 6345, 6415, 6485, 7265, 7335, 7405, 7475, 7545, 7615, 7685, 7755, 7825, 7895, 7965, 8035, 8105, 8175, 8245, 8315, 8465, 8535, 8605, 8675, 8745, 8815, 8885, 8955, 9025, 9095, 9165, 9235, 9305, 9375, 9445, 9590, 9660, 9730, 9800]
d5559 = [55, 125, 195, 265, 335, 405, 475, 545, 615, 685, 755, 825, 895, 965, 1035, 1105, 1175, 1245, 1315, 1385, 1455, 1525, 1595, 1665, 1735, 1805, 1875, 1945, 2015, 2085, 2155, 2225, 2295, 2365, 2435, 2505, 2575, 2645, 2715, 2785, 2855, 2925, 2995, 3065, 3135, 3205, 3275, 3345, 3905, 3975, 4045, 4115, 4185, 4255, 4325, 4395, 4465, 4535, 4605, 4675, 4745, 4815, 5015, 5085, 5155, 5225, 5295, 5365, 5435, 5505, 5575, 5645, 5715, 5785, 5855, 5925, 5995, 6065, 6135, 6205, 6275, 6345, 6415, 6485, 6555, 6625, 6995, 7065, 7135, 7205, 7275, 7345, 7415, 7485, 7555, 7625, 7695, 7905, 7975, 8045, 8115, 8185, 8255, 8325, 8395, 8465, 8535, 8605, 8675, 8745, 8815, 8885, 9065, 9135, 9205, 9275, 9345, 9415, 9485, 9555, 9625, 9695, 9765, 9835]
d5558 = [875, 945, 1015, 1085, 1155, 1225, 1295, 1365, 1435, 1505, 1575, 1645, 1715, 1785, 1855, 1925, 1995, 2395, 2465, 2535, 2605, 2675, 2745, 2815, 2885, 2955, 3465, 3535, 3605, 3675, 3745, 3815, 3885, 3955, 4025, 4095, 4375, 4445, 4515, 4585, 4655, 4985, 5055, 5125, 5195, 5265, 5335, 5405, 5475, 5545, 5615, 5685, 6655, 6725, 6795, 6865, 6935, 7005, 7075, 7145, 7215, 7285, 7355, 7425, 7495, 7565, 7635, 8855, 8925, 8995, 9065, 9135, 9205, 9275, 9345, 9415, 9485, 9555, 9625]
d5557 = [65, 135, 205, 275, 345, 415, 485, 745, 815, 1095, 1165, 1235, 1305, 1375, 1445, 1515, 1585, 2105, 2175, 2245, 2315, 2385, 2865, 2935, 3005, 3075, 4205, 4275, 4345, 4415, 4485, 4555, 4625, 4695, 4765, 4835, 4975, 5045, 5115, 5185, 5255, 5325, 5725, 5795, 5865, 5935, 6005, 6075, 6145, 6215, 7325, 7375, 7445, 7515, 7585, 7655, 7725, 7795, 7865, 7935, 8005, 8075, 8145, 8215, 8285, 8355, 8425, 8495, 8565, 8635, 8705, 8775, 8845, 8915, 8985, 9055, 9125, 9195, 9265, 9335, 9405, 9475, 9545, 9615, 9685, 9755, 9825]
d5556 = [515, 585, 655, 725, 795, 865, 935, 1005, 1075, 1145, 1215, 1285, 1355, 1425, 1495, 1565, 1635, 1705, 1775, 1845, 1915, 2835, 2905, 2975, 3045, 3115, 3185, 3255, 3325, 3395, 3465, 3535, 3605, 3675, 3745, 4195, 4265, 4335, 4405, 4475, 4545, 4615, 4685, 4755, 4825, 5125, 5195, 5265, 5465, 5535, 5605, 5675, 5745, 5815, 5885, 5955, 7525, 7595, 7665, 7735, 7805, 7875, 7945, 8015, 8085, 8155, 8225, 8295, 8365, 8435, 8505, 8575, 8645, 8715, 8785, 8855, 8925, 8995, 9065, 9135, 9205, 9275, 9525, 9595, 9665, 9735, 9805, 9875]
d5555 = [55, 125, 195, 265, 1395, 1465, 1535, 1605, 1675, 1745, 1815, 1885, 1955, 2845, 2915, 2985, 3055, 3125, 4325, 4395, 4465, 4535, 4605, 4675, 4745, 4815, 5225, 5295, 5365, 5435, 5505, 5575, 5645, 6525, 6595, 6665, 6735, 6805, 6875, 6945, 7015, 7085, 7155, 7225, 8075, 8145, 8215, 8285, 8355, 8425, 8495, 8565, 8635, 8705, 9025, 9095, 9165, 9235, 9305, 9375]
d5554 = [1815, 1885, 1955, 2025, 2095, 2165, 2235, 2305, 2375, 2445, 2515, 2585, 2655, 2725, 2795, 2865, 2935, 3005, 5395, 5465, 5535, 5605, 5675, 5745, 5815, 5885, 8995, 9065, 9135, 9205, 9275, 9345, 9415, 9485, 9555, 9625, 9695, 9765, 9835]
d5552 = [885, 955, 1025, 1095, 1165, 1235, 1305, 1375, 1445, 1515, 1585, 1655, 1725, 1795, 1865, 2065, 2135, 2205, 2275, 2345, 2415, 2485, 2555, 2625, 2695, 2765, 2835, 3025, 3095, 3165, 3235, 6905, 6975, 7045, 7115, 7185, 7255, 7325, 7395, 7465, 7535, 8025, 8095, 8165, 8235, 8305, 8375, 8445, 8515, 8585, 8655, 8725, 8795, 8865, 8935, 9225, 9295, 9365, 9435, 9505, 9575, 9645]

levels = [5596, 5592, 5591, 5590, 5589, 5588, 5587, 5586, 5585, 5584, 5583, 5582, 5581, 5580, 5579, 5578, 5577, 5576, 5575, 5574, 5573, 5572, 5571, 5570, 5569, 5568, 5567, 5566, 5565, 5564, 5563, 5562, 5561, 5560, 5559, 5558, 5557, 5556, 5555, 5554, 5553, 5552, 5551, 5550, 5549, 5548, 5547, 5546, 5545, 5544, 5543, 5542, 5541, 5540, 5539, 5538, 5537, 5536, 5535, 5534, 5533, 5532, 5531, 5527]
samples = [s5596, s5592, s5591, s5590, s5589, s5588, s5587, s5586, s5585, s5584, s5583, s5582, s5581, s5580, s5579, s5578, s5577, s5576, s5575, s5574, s5573, s5572, s5571, s5570, s5569, s5568, s5567, s5566, s5565, s5564, s5563, s5562, s5561, s5560, s5559, s5558, s5557, s5556, s5555, s5554, s5553, s5552, s5551, s5550, s5549, s5548, s5547, s5546, s5545, s5544, s5543, s5542, s5541, s5540, s5539, s5538, s5537, s5536, s5535, s5534, s5533, s5532, s5531, s5527]
dense_levels = [5566, 5565, 5564, 5563, 5561, 5560, 5559, 5558, 5557, 5556, 5555, 5554, 5552]
dense_samples = [d5566, d5565, d5564, d5563, d5561, d5560, d5559, d5558, d5557, d5556, d5555, d5554, d5552]

xs = []
ys = []
for level, row in zip(levels + dense_levels, samples + dense_samples):
    xs.extend(row)
    ys.extend([level] * len(row))

fig, ax = plt.subplots(figsize=(10, 10))
label = f"Samples\n$\\mu$ = {mean_adc:.2f}, $\\sigma$ = {std_adc:.2f}"
ax.plot(xs, ys, "k.", label=label)
ax.set_title(f"Run {run_number}, {channel}, Pedestal")
ax.set_xlabel("Sample #")
ax.set_ylabel("ADC Counts")
ax.grid(True)
ax.legend(loc="upper right")
fig.subplots_adjust(left=0.081, right=0.985, top=0.965, bottom=0.058)
fig.savefig("out.png", dpi=100)
